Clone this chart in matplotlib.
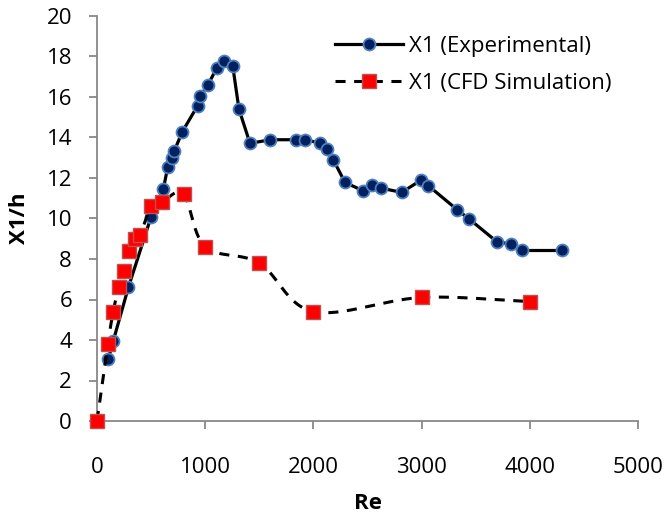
import numpy as np
import matplotlib
matplotlib.use("Agg")
import matplotlib.pyplot as plt
from matplotlib.lines import Line2D

plt.rcParams['font.family'] = ['Open Sans', 'DejaVu Sans']

# Experimental data
re_exp = [104, 151, 290, 499, 613, 653, 693, 715, 789, 930, 952, 1026, 1106, 1174, 1254,
          1312, 1414, 1602, 1836, 1919, 2061, 2129, 2184, 2292, 2455, 2539, 2625, 2816,
          2991, 3062, 3330, 3441, 3694, 3826, 3925, 4295]
x1_exp = [3.05, 3.97, 6.6, 10.07, 11.45, 12.52, 12.98, 13.35, 14.29, 15.57, 16.03, 16.6,
          17.43, 17.76, 17.55, 15.4, 13.71, 13.89, 13.89, 13.89, 13.73, 13.43, 12.9, 11.78,
          11.38, 11.65, 11.5, 11.29, 11.88, 11.62, 10.43, 9.97, 8.86, 8.73, 8.42, 8.42]

# CFD data
re_cfd = [0, 100, 150, 200, 250, 300, 350, 400, 500, 600, 800, 1000, 1500, 2000, 3000, 4000]
x1_cfd = [0, 3.8, 5.4, 6.6, 7.4, 8.4, 9.0, 9.2, 10.6, 10.8, 11.2, 8.6, 7.8, 5.4, 6.1, 5.9]

xticks = [0, 1000, 2000, 3000, 4000, 5000]
yticks = [0, 2, 4, 6, 8, 10, 12, 14, 16, 18, 20]


def smooth(x, y, n=30):
    """Catmull-Rom style smoothing (like Excel smoothed lines)."""
    x = np.asarray(x, float)
    y = np.asarray(y, float)
    px = np.concatenate([[2 * x[0] - x[1]], x, [2 * x[-1] - x[-2]]])
    py = np.concatenate([[2 * y[0] - y[1]], y, [2 * y[-1] - y[-2]]])
    ox, oy = [], []
    t = np.linspace(0, 1, n)
    for i in range(1, len(px) - 2):
        p0x, p1x, p2x, p3x = px[i - 1:i + 3]
        p0y, p1y, p2y, p3y = py[i - 1:i + 3]
        c1x = p1x + (p2x - p0x) / 6
        c1y = p1y + (p2y - p0y) / 6
        c2x = p2x - (p3x - p1x) / 6
        c2y = p2y - (p3y - p1y) / 6
        bx = (1 - t) ** 3 * p1x + 3 * (1 - t) ** 2 * t * c1x + 3 * (1 - t) * t ** 2 * c2x + t ** 3 * p2x
        by = (1 - t) ** 3 * p1y + 3 * (1 - t) ** 2 * t * c1y + 3 * (1 - t) * t ** 2 * c2y + t ** 3 * p2y
        ox.extend(bx)
        oy.extend(by)
    return np.array(ox), np.array(oy)


fig = plt.figure(figsize=(6.64, 5.17), dpi=100)
ax = fig.add_axes([97 / 664, 1 - 421 / 517, (638 - 97) / 664, (421 - 16) / 517])

exp_style = dict(marker='o', ms=8.6, mfc='#002060', mec='#4F81BD', mew=1.3)
cfd_style = dict(marker='s', ms=9.5, mfc='#FF0000', mec='#C0504D', mew=1.0)

ax.plot(re_exp, x1_exp, '-', color='black', lw=2.3, zorder=2, clip_on=False)
ax.plot(re_exp, x1_exp, ls='none', zorder=3, clip_on=False, **exp_style)

sx, sy = smooth(re_cfd, x1_cfd)
ax.plot(sx, sy, color='black', lw=2.2, dashes=(3.3, 2.8), zorder=4, clip_on=False)
ax.plot(re_cfd, x1_cfd, ls='none', zorder=5, clip_on=False, **cfd_style)

h1 = Line2D([], [], color='black', lw=2.3, **exp_style)
h2 = Line2D([], [], color='black', lw=2.2, dashes=(3.3, 2.8), **cfd_style)
ax.legend([h1, h2], ['X1 (Experimental)', 'X1 (CFD Simulation)'], loc='upper left',
          bbox_to_anchor=(0.423, 0.972), frameon=False, fontsize=16, handlelength=3.06,
          handletextpad=0.27, labelspacing=0.72, borderaxespad=0.0)

ax.set_xlim(0, 5000)
ax.set_ylim(0, 20)
ax.set_xticks(xticks)
ax.set_yticks(yticks)
ax.spines['top'].set_visible(False)
ax.spines['right'].set_visible(False)
for s in ['left', 'bottom']:
    ax.spines[s].set_color('#888888')
    ax.spines[s].set_linewidth(1.3)
ax.tick_params(axis='both', colors='#888888', labelcolor='black', labelsize=16, length=6, width=1.3)
ax.tick_params(axis='x', pad=20)
ax.tick_params(axis='y', pad=12)

ax.set_xlabel('Re', fontsize=16, fontweight='bold', labelpad=11)
ax.set_ylabel('X1/h', fontsize=16, fontweight='bold', labelpad=12)

fig.savefig('out.png', dpi=100)
